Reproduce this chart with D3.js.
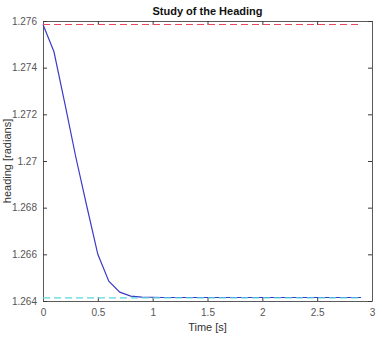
<!DOCTYPE html>
<html>
<head>
<meta charset="utf-8">
<script src="https://cdn.jsdelivr.net/npm/d3@7"></script>
<style>
  body { margin: 0; background: #fff; }
  text { font-family: "Liberation Sans", Arial, sans-serif; }
</style>
</head>
<body>
<script>
var w = 382;
var h = 339;
var margin = {top: 21, right: 10, bottom: 38, left: 43};

// heading samples, every 0.1 s
var time = [0, 0.1, 0.2, 0.3, 0.4, 0.5, 0.6, 0.7, 0.8, 0.9, 1.0, 1.1, 1.2, 1.3, 1.4, 1.5,
            1.6, 1.7, 1.8, 1.9, 2.0, 2.1, 2.2, 2.3, 2.4, 2.5, 2.6, 2.7, 2.8, 2.9];
var heading = [1.27585, 1.27468, 1.27245, 1.27015, 1.26805, 1.26600, 1.26485, 1.26438, 1.26421, 1.26417,
               1.26416, 1.26415, 1.26415, 1.26415, 1.26415, 1.26415, 1.26415, 1.26415, 1.26415, 1.26415,
               1.26415, 1.26415, 1.26415, 1.26415, 1.26415, 1.26415, 1.26415, 1.26415, 1.26415, 1.26415];
var initialHeading = 1.27585;
var finalHeading = 1.26413;

var xTicks = [0, 0.5, 1, 1.5, 2, 2.5, 3];
var xTickLabels = ["0", "0.5", "1", "1.5", "2", "2.5", "3"];
var yTicks = [1.264, 1.266, 1.268, 1.27, 1.272, 1.274, 1.276];
var yTickLabels = ["1.264", "1.266", "1.268", "1.27", "1.272", "1.274", "1.276"];

var xScale = d3.scaleLinear()
    .domain([0, 3])
    .range([margin.left, w - margin.right]);

var yScale = d3.scaleLinear()
    .domain([1.264, 1.276])
    .range([h - margin.bottom, margin.top]);

var svg = d3.select("body")
    .append("svg")
    .attr("width", w)
    .attr("height", h);

// axes, ticks pointing inward like matlab
function styleAxis(g) {
    g.select(".domain").attr("stroke", "#5a5a5a");
    g.selectAll(".tick line").attr("stroke", "#3a3a3a");
    g.selectAll(".tick text").attr("fill", "#555").style("font-size", "10px");
}

svg.append("g")
    .attr("transform", "translate(0," + (h - margin.bottom) + ")")
    .call(d3.axisBottom(xScale).tickValues(xTicks)
        .tickFormat(function(d, i) { return xTickLabels[i]; })
        .tickSizeInner(-4).tickSizeOuter(0).tickPadding(8))
    .call(styleAxis);

svg.append("g")
    .attr("transform", "translate(0," + margin.top + ")")
    .call(d3.axisTop(xScale).tickValues(xTicks).tickFormat("")
        .tickSizeInner(-4).tickSizeOuter(0))
    .call(styleAxis);

svg.append("g")
    .attr("transform", "translate(" + margin.left + ",0)")
    .call(d3.axisLeft(yScale).tickValues(yTicks)
        .tickFormat(function(d, i) { return yTickLabels[i]; })
        .tickSizeInner(-4).tickSizeOuter(0).tickPadding(6))
    .call(styleAxis);

svg.append("g")
    .attr("transform", "translate(" + (w - margin.right) + ",0)")
    .call(d3.axisRight(yScale).tickValues(yTicks).tickFormat("")
        .tickSizeInner(-4).tickSizeOuter(0))
    .call(styleAxis);

// heading curve
var line = d3.line()
    .x(function(d, i) { return xScale(time[i]); })
    .y(function(d) { return yScale(d); });

svg.append("path")
    .datum(heading)
    .attr("d", line)
    .attr("fill", "none")
    .attr("stroke", "#3c3cc8")
    .attr("stroke-width", 1.2);

// reference lines
svg.append("line")
    .attr("x1", xScale(0)).attr("x2", xScale(2.9))
    .attr("y1", yScale(initialHeading)).attr("y2", yScale(initialHeading))
    .attr("stroke", "#e8475e")
    .attr("stroke-width", 1.2)
    .attr("stroke-dasharray", "7,4");

svg.append("line")
    .attr("x1", xScale(0)).attr("x2", xScale(2.9))
    .attr("y1", yScale(finalHeading)).attr("y2", yScale(finalHeading))
    .attr("stroke", "#5ad8dc")
    .attr("stroke-width", 1.2)
    .attr("stroke-dasharray", "7,4");

// title and labels
svg.append("text")
    .attr("text-anchor", "middle")
    .attr("x", (margin.left + w - margin.right) / 2)
    .attr("y", 15)
    .style("font-size", "11px")
    .style("font-weight", "bold")
    .attr("fill", "#111")
    .text("Study of the Heading");

svg.append("text")
    .attr("text-anchor", "middle")
    .attr("x", (margin.left + w - margin.right) / 2)
    .attr("y", 331)
    .style("font-size", "11px")
    .attr("fill", "#333")
    .text("Time [s]");

svg.append("text")
    .attr("text-anchor", "middle")
    .attr("transform", "rotate(-90)")
    .attr("x", -(margin.top + h - margin.bottom) / 2)
    .attr("y", 11)
    .style("font-size", "11px")
    .attr("fill", "#333")
    .text("heading [radians]");
</script>
</body>
</html>
